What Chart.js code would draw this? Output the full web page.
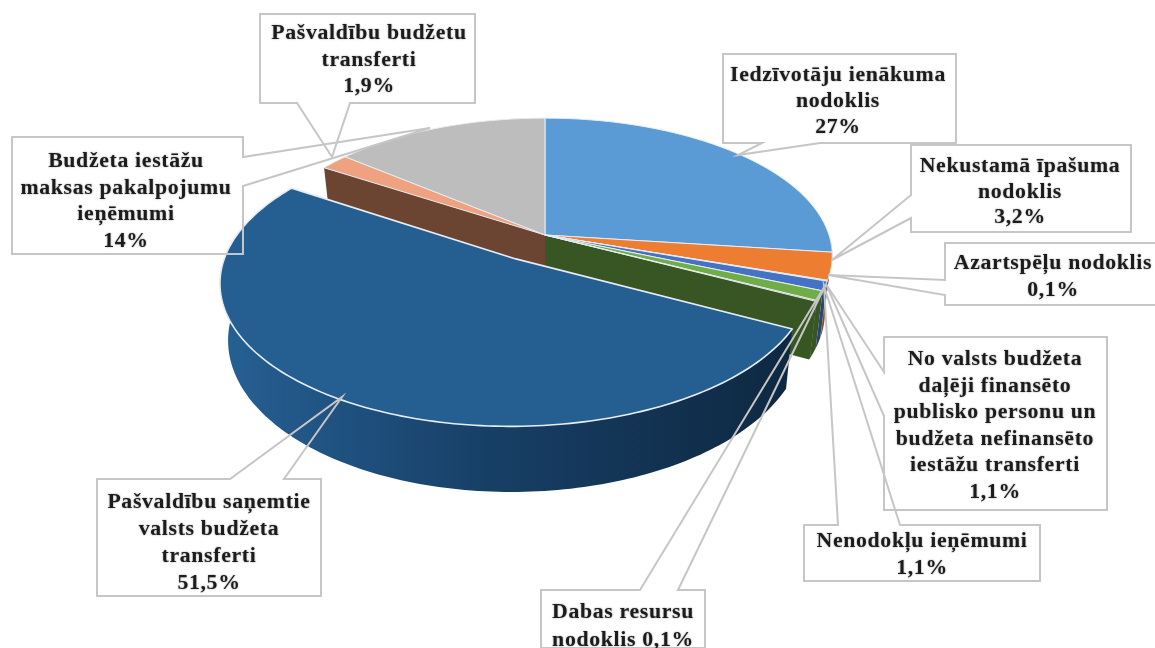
<!DOCTYPE html>
<html lang="lv">
<head>
<meta charset="utf-8">
<title>Pašvaldību ieņēmumi</title>
<script src="https://cdn.jsdelivr.net/npm/chart.js@4/dist/chart.umd.js"></script>
<style>
  html, body { margin: 0; padding: 0; background: #fff; }
  canvas { display: block; filter: blur(0.4px); }
</style>
</head>
<body>
<canvas id="pieChart" width="1155" height="648"></canvas>
<script>
// Data, clockwise from 12 o'clock
const labels = [
  "Iedzīvotāju ienākuma nodoklis",
  "Nekustamā īpašuma nodoklis",
  "Azartspēļu nodoklis",
  "No valsts budžeta daļēji finansēto publisko personu un budžeta nefinansēto iestāžu transferti",
  "Nenodokļu ieņēmumi",
  "Dabas resursu nodoklis",
  "Pašvaldību saņemtie valsts budžeta transferti",
  "Pašvaldību budžetu transferti",
  "Budžeta iestāžu maksas pakalpojumu ieņēmumi"
];
const values = [27, 3.2, 0.1, 1.1, 1.1, 0.1, 51.5, 1.9, 14];
const explodedLabel = labels[6];

// Colours of the top faces and of the side walls
const topColors = ["#5b9bd5", "#ed7d31", "#a5a5a5", "#4472c4", "#70ad47", "#43682b", "#255e91", "#eea27f", "#bdbdbd"];
const sideColors = ["#2f5d8a", "#8f4a1c", "#636363", "#2a4478", "#375623", "#375623", "#0e2841", "#6b4531", "#707070"];

// Text lines of every callout, in the same order as labels
const calloutLines = [
  ["Iedzīvotāju ienākuma", "nodoklis"],
  ["Nekustamā īpašuma", "nodoklis"],
  ["Azartspēļu nodoklis"],
  ["No valsts budžeta", "daļēji finansēto", "publisko personu un", "budžeta nefinansēto", "iestāžu transferti"],
  ["Nenodokļu ieņēmumi"],
  ["Dabas resursu", "nodoklis"],
  ["Pašvaldību saņemtie", "valsts budžeta", "transferti"],
  ["Pašvaldību budžetu", "transferti"],
  ["Budžeta iestāžu", "maksas pakalpojumu", "ieņēmumi"]
];

// Callout outlines on the page: text centre, first baseline, then the outline
const calloutBoxes = [
  { cx: 838, y: 81, lh: 26, pts: [[723,54],[956,54],[956,143],[820,143],[738,155],[762,143],[723,143]] },
  { cx: 1020, y: 172, lh: 25.6, pts: [[911,145],[1131,145],[1131,232],[911,232],[911,218],[832,260],[911,195]] },
  { cx: 1053, y: 269, pts: [[945,243],[1156,243],[1156,305],[945,305],[945,295],[828,275],[945,280]] },
  { cx: 995, y: 365, pts: [[884,337],[1107,337],[1107,510],[884,510],[884,416],[826,284],[884,372]] },
  { cx: 922, y: 547, pts: [[804,525],[838,525],[824,286],[900,525],[1040,525],[1040,581],[804,581]] },
  { cx: 623, y: 618, lh: 28, inline: true, pts: [[541,590],[640,590],[826,284],[678,590],[705,590],[705,648],[541,648]] },
  { cx: 209, y: 508, lh: 27, pts: [[97,479],[230,479],[342,397],[284,479],[321,479],[321,596],[97,596]] },
  { cx: 369, y: 39, pts: [[260,14],[475,14],[475,103],[350,103],[332,157],[297,103],[260,103]] },
  { cx: 126, y: 167, pts: [[12,137],[243,137],[243,157],[430,128],[243,186],[243,254],[12,254]] }
];

// Projection of the flat pie into the tilted view
const STRETCH_X = 1.2085;
const STRETCH_Y = 0.572;
const PERSPECTIVE = 0.15;
const DEPTH = 0.23;
const TAPER = 0.025;
const EXPLODE = 0.2;

function makeProject(arc) {
  return (u, v, z) => {
    const den = 1 - PERSPECTIVE * v;
    return {
      x: arc.x + arc.outerRadius * STRETCH_X * u / den * (1 - TAPER * z),
      y: arc.y + arc.outerRadius * (STRETCH_Y * v + DEPTH * z) / den
    };
  };
}

function rimPoints(arc, from, to, shift, z, project) {
  const pts = [];
  const steps = Math.max(2, Math.ceil((to - from) / 0.02));
  for (let i = 0; i <= steps; i++) {
    const a = from + (to - from) * i / steps;
    pts.push(project(Math.cos(a) + shift.u, Math.sin(a) + shift.v, z));
  }
  return pts;
}

function fillPath(ctx, pts, fill, stroke, width) {
  ctx.beginPath();
  pts.forEach((p, i) => i ? ctx.lineTo(p.x, p.y) : ctx.moveTo(p.x, p.y));
  ctx.closePath();
  ctx.fillStyle = fill;
  ctx.fill();
  if (stroke) {
    ctx.strokeStyle = stroke;
    ctx.lineWidth = width;
    ctx.stroke();
  }
}

function drawSlice(ctx, arc, index, part) {
  const project = makeProject(arc);
  const start = arc.startAngle;
  const end = arc.endAngle;
  const mid = (start + end) / 2;
  const isBig = labels[index] === explodedLabel;
  const shift = isBig
    ? { u: Math.cos(mid) * EXPLODE, v: Math.sin(mid) * EXPLODE }
    : { u: 0, v: 0 };
  const centerTop = project(shift.u, shift.v, 0);
  const centerLow = project(shift.u, shift.v, 1);

  if (part === "outer") {
    // only the part of the rim that faces the viewer
    const from = Math.max(start, 0);
    const to = Math.min(end, Math.PI + 0.2);
    if (to <= from) return;
    const upper = rimPoints(arc, from, to, shift, 0, project);
    const lower = rimPoints(arc, from, to, shift, 1, project).reverse();
    let fill = sideColors[index];
    if (isBig) {
      const left = upper[upper.length - 1].x;
      const right = upper[0].x;
      fill = ctx.createLinearGradient(left, 0, right, 0);
      fill.addColorStop(0, topColors[index]);
      fill.addColorStop(0.45, "#173f66");
      fill.addColorStop(1, sideColors[index]);
    }
    fillPath(ctx, upper.concat(lower), fill);
  }

  if (part === "walls") {
    [start, end].forEach(a => {
      const rimTop = project(Math.cos(a) + shift.u, Math.sin(a) + shift.v, 0);
      const rimLow = project(Math.cos(a) + shift.u, Math.sin(a) + shift.v, 1);
      fillPath(ctx, [centerTop, rimTop, rimLow, centerLow], sideColors[index]);
    });
  }

  if (part === "top") {
    const rim = rimPoints(arc, start, end, shift, 0, project);
    fillPath(ctx, [centerTop].concat(rim), topColors[index], "#e6edf2", isBig ? 1.6 : 1);
  }
}

// Draws the arcs Chart.js has laid out, as a tilted pie with depth
const tiltedPie = {
  id: "tiltedPie",
  beforeDatasetDraw(chart, args) {
    const ctx = chart.ctx;
    const arcs = args.meta.data;
    const rest = arcs.map((_, i) => i).filter(i => labels[i] !== explodedLabel);
    const big = labels.indexOf(explodedLabel);
    ctx.save();
    ctx.lineJoin = "round";
    // walls of the cut that the exploded slice opens
    drawSlice(ctx, arcs[big - 1], big - 1, "walls");
    drawSlice(ctx, arcs[big + 1], big + 1, "walls");
    rest.forEach(i => drawSlice(ctx, arcs[i], i, "outer"));
    rest.forEach(i => drawSlice(ctx, arcs[i], i, "top"));
    drawSlice(ctx, arcs[big], big, "outer");
    drawSlice(ctx, arcs[big], big, "top");
    ctx.restore();
    return false;
  }
};

function percentText(value) {
  return String(value).replace(".", ",") + "%";
}

// Label boxes with their pointers
const callouts = {
  id: "callouts",
  afterDatasetsDraw(chart) {
    const ctx = chart.ctx;
    ctx.save();
    calloutBoxes.forEach((box, i) => {
      ctx.beginPath();
      box.pts.forEach((p, k) => k ? ctx.lineTo(p[0], p[1]) : ctx.moveTo(p[0], p[1]));
      ctx.closePath();
      ctx.strokeStyle = "#c6c6c6";
      ctx.lineWidth = 2;
      ctx.stroke();

      const lines = calloutLines[i].slice();
      const pct = percentText(values[i]);
      if (box.inline) lines[lines.length - 1] += " " + pct;
      else lines.push(pct);

      ctx.font = "bold 20px 'Liberation Serif'";
      ctx.letterSpacing = "0.6px";
      ctx.textAlign = "center";
      ctx.textBaseline = "alphabetic";
      ctx.fillStyle = "#1c1c1c";
      ctx.shadowColor = "rgba(0,0,0,0.4)";
      ctx.shadowBlur = 2;
      lines.forEach((line, k) => {
        ctx.save();
        ctx.translate(box.cx, box.y + k * (box.lh || 26.6));
        ctx.scale(1.09, 1); // the reference text is a little wide
        ctx.fillText(line, 0, 0);
        ctx.restore();
      });
      ctx.shadowBlur = 0;
      ctx.shadowColor = "transparent";
    });
    ctx.restore();
  }
};

const ctx = document.getElementById("pieChart").getContext("2d");
new Chart(ctx, {
  type: "pie",
  data: {
    labels: labels,
    datasets: [{
      data: values,
      backgroundColor: topColors,
      borderWidth: 0
    }]
  },
  options: {
    responsive: false,
    animation: false,
    layout: { padding: { right: 65, bottom: 178 } },
    plugins: {
      legend: { display: false },
      tooltip: { enabled: false }
    }
  },
  plugins: [tiltedPie, callouts]
});
</script>
</body>
</html>
